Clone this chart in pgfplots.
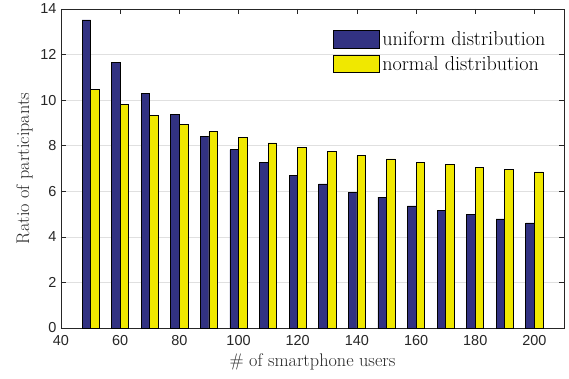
\documentclass[border=0pt]{standalone}
\usepackage{fontspec}
\usepackage{pgfplots}
\pgfplotsset{compat=1.18}
\usetikzlibrary{calc}
\newfontfamily\ticksf{Liberation Sans}
\definecolor{ublue}{RGB}{50,50,130}
\definecolor{nyellow}{RGB}{240,232,0}
\definecolor{axgray}{RGB}{38,38,38}
\pgfplotstableread{
x uni nor
50 13.52 10.48
60 11.64 9.82
70 10.29 9.33
80 9.36 8.95
90 8.41 8.61
100 7.82 8.36
110 7.26 8.12
120 6.69 7.91
130 6.32 7.74
140 5.94 7.56
150 5.74 7.42
160 5.36 7.28
170 5.17 7.17
180 4.98 7.05
190 4.79 6.95
200 4.61 6.85
}\datatable
\begin{document}
\begin{tikzpicture}
\begin{axis}[
  scale only axis,
  width=503bp, height=319bp,
  xmin=40, xmax=210, ymin=0, ymax=14,
  xtick={40,60,...,200}, ytick={0,2,...,14},
  ymajorgrids, grid style={black!12, line width=0.6bp},
  axis line style={axgray, line width=0.6bp},
  tick style={axgray, line width=0.6bp},
  major tick length=5bp,
  tick align=inside,
  /pgf/number format/assume math mode=true,
  tick label style={font=\ticksf\fontsize{14.5}{14.5}\selectfont, text=axgray},
  xticklabel style={yshift=-4bp},
  yticklabel style={xshift=-1bp},
  label style={font=\fontsize{18.3}{20}\selectfont, text=axgray},
  xlabel={\# of smartphone users},
  ylabel={Ratio of participants},
  ylabel style={yshift=1bp},
  xlabel style={yshift=-1bp},
  legend image code/.code={\draw[#1, line width=0.7bp] (0bp,-8.7bp) rectangle (46bp,8.7bp);},
  legend style={at={(rel axis cs:0.541,0.937)}, anchor=north west, draw=none, fill=none,
    inner sep=0pt, outer sep=0pt, row sep=4bp,
    font=\fontsize{20.2}{22}\selectfont,
    nodes={inner sep=2.5bp}},
  legend cell align=left,
]
\addplot[ybar, bar width=2.9, bar shift=-1.45, fill=ublue, draw=black, line width=0.7bp] table[x=x, y=uni] {\datatable};
\addplot[ybar, bar width=2.9, bar shift=1.45, fill=nyellow, draw=black, line width=0.7bp] table[x=x, y=nor] {\datatable};
\legend{uniform distribution, normal distribution}
\end{axis}
\pgfresetboundingbox
\path ($(current axis.south west)+(-61bp,-51bp)$) rectangle ($(current axis.north east)+(5bp,9bp)$);
\end{tikzpicture}
\end{document}
